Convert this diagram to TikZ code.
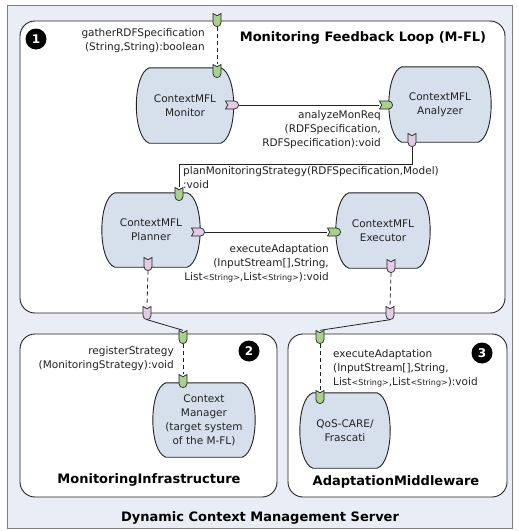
\documentclass[tikz,border=0pt]{standalone}
\usepackage{fontspec}
\setmainfont{DejaVu Sans}
\usetikzlibrary{calc}
\definecolor{outerbg}{HTML}{E9EEF6}
\definecolor{compfill}{HTML}{D6E0EC}
\definecolor{portgreen}{HTML}{A9D18E}
\definecolor{portpink}{HTML}{E4CBE4}
\definecolor{linecol}{HTML}{222222}
\definecolor{outerline}{HTML}{7F7F7F}
\pgfdeclarelayer{back}
\pgfdeclarelayer{mid}
\pgfsetlayers{back,mid,main}
\newcommand\lblfont{\fontsize{10.5}{14}\selectfont}
\newcommand\ttlfont{\fontsize{13}{14}\selectfont\bfseries}
\newcommand\smstr[1]{{\fontsize{8}{8}\selectfont #1}}
\newcommand\mkport[5]{%
  \node[portnode, rotate=#4] (#1) at (#2,#3) {};
  \filldraw[fill=#5, draw=linecol, line width=0.7pt, shift={(#2,#3)}, rotate=#4]
    (-4,-6.5) -- (0,-4.3) -- (4,-6.5) -- (4,2.5) .. controls (4,5.5) and (2,6.5) .. (0,6.5)
    .. controls (-2,6.5) and (-4,5.5) .. (-4,2.5) -- cycle;
}
\newcommand\barrel[1]{%
  \begin{pgfonlayer}{mid}
  \filldraw[fill=compfill, draw=linecol, line width=0.9pt]
    ($(#1.north west)+(13,0)$) -- ($(#1.north east)+(-13,0)$)
    .. controls ($(#1.north east)+(4.3,6)$) and ($(#1.south east)+(4.3,-6)$) .. ($(#1.south east)+(-13,0)$)
    -- ($(#1.south west)+(13,0)$)
    .. controls ($(#1.south west)+(-4.3,-6)$) and ($(#1.north west)+(-4.3,6)$) .. cycle;
  \end{pgfonlayer}
}
\tikzset{
  portnode/.style={rectangle, inner sep=0, minimum width=8pt, minimum height=13pt},
  comp/.style={rectangle, inner sep=0, align=center, font=\lblfont, text=linecol},
  conn/.style={draw=linecol, line width=0.8pt},
  dconn/.style={conn, dash pattern=on 4pt off 3pt},
  lbl/.style={inner sep=0, font=\lblfont, text=linecol},
  ttl/.style={inner sep=0, font=\ttlfont, text=black},
  badge/.style={circle, fill=black, text=white, inner sep=0, minimum size=21pt, font=\fontsize{12}{12}\selectfont\bfseries},
  box/.style={draw=linecol, fill=white, line width=0.9pt, rounded corners=15pt}
}
\begin{document}
\begin{tikzpicture}[x=1pt, y=-1pt]
\useasboundingbox (0,0) rectangle (519,531);
\begin{pgfonlayer}{back}
  \filldraw[fill=outerbg, draw=outerline, line width=0.9pt] (7,5) rectangle (512,528);
  \path[box] (20,21) rectangle (505,313);
  \path[box] (20,334) rectangle (277,497);
  \path[box] (288,334) rectangle (507,497);
\end{pgfonlayer}

% titles and badges
\node[ttl] (t1) at (363,38) {Monitoring Feedback Loop (M-FL)};
\node[ttl] (t2) at (149,480) {MonitoringInfrastructure};
\node[ttl] (t3) at (396,482) {AdaptationMiddleware};
\node[ttl] (t4) at (260,518) {Dynamic Context Management Server};
\node[badge] (b1) at (36,39) {1};
\node[badge] (b2) at (249,351) {2};
\node[badge] (b3) at (482,353) {3};

% components
\node[comp, minimum width=97pt, minimum height=75pt] (mon) at (185,105.5) {ContextMFL\\Monitor};
\node[comp, minimum width=102pt, minimum height=75pt] (ana) at (440,104.5) {ContextMFL\\Analyzer};
\node[comp, minimum width=98pt, minimum height=74pt] (pla) at (151,230) {ContextMFL\\Planner};
\node[comp, minimum width=94pt, minimum height=75pt] (exe) at (383,230.5) {ContextMFL\\Executor};
\node[comp, minimum width=102pt, minimum height=74pt] (cm) at (204,420) {Context\\Manager\\(target system\\of the M-FL)};
\node[comp, minimum width=90pt, minimum height=75pt] (qos) at (345,430.5) {QoS-CARE/\\Frascati};
\barrel{mon}\barrel{ana}\barrel{pla}\barrel{exe}\barrel{cm}\barrel{qos}

% ports
\mkport{p1}{217}{20}{0}{portgreen}
\mkport{p2}{217}{71}{0}{portgreen}
\mkport{p3}{232}{105}{90}{portpink}
\mkport{p4}{386}{105}{90}{portgreen}
\mkport{p5}{412}{140}{0}{portpink}
\mkport{p6}{179}{194}{0}{portgreen}
\mkport{p7}{198}{232}{90}{portpink}
\mkport{p8}{334}{232}{90}{portgreen}
\mkport{p9}{148}{264}{0}{portpink}
\mkport{p10}{391}{266}{0}{portpink}
\mkport{p11}{147}{313}{0}{portpink}
\mkport{p12}{390}{313}{0}{portpink}
\mkport{p13}{183}{337}{0}{portgreen}
\mkport{p14}{183}{381}{0}{portgreen}
\mkport{p15}{320}{337}{0}{portgreen}
\mkport{p16}{320}{397}{0}{portgreen}

% connectors
\draw[dconn] (p1.south) -- (p2.north);
\draw[conn] (p3.south) -- (p4.north);
\draw[conn] (p5.south) -- ++(0,18) -| (p6.north);
\draw[conn] (p7.south) -- (p8.north);
\draw[dconn] (p9.south) -- (p11.north);
\draw[dconn] (p10.south) -- (p12.north);
\draw[conn] (p11.south) -- (p13.north);
\draw[conn] (p12.south) -- (p15.north);
\draw[dconn] (p13.south) -- (p14.north);
\draw[dconn] (p15.south) -- (p16.north);

% labels
\node[lbl, align=right, anchor=east] (l1) at (205,40.5) {gatherRDFSpecification\\(String,String):boolean};
\node[lbl, align=right, anchor=east] (l2) at (381,130) {analyzeMonReq\\(RDFSpecification,\\RDFSpecification):void};
\node[lbl, align=left, anchor=west] (l3) at (183,177.5) {planMonitoringStrategy(RDFSpecification,Model)\\:void};
\node[lbl, align=right, anchor=east] (l4) at (329,263) {executeAdaptation\\(InputStream[],String,\\List\smstr{<String>},List\smstr{<String>}):void};
\node[lbl, align=right, anchor=east] (l5) at (174,358.5) {registerStrategy\\(MonitoringStrategy):void};
\node[lbl, align=left, anchor=west] (l6) at (333,368) {executeAdaptation\\(InputStream[],String,\\List\smstr{<String>},List\smstr{<String>}):void};
\end{tikzpicture}
\end{document}
